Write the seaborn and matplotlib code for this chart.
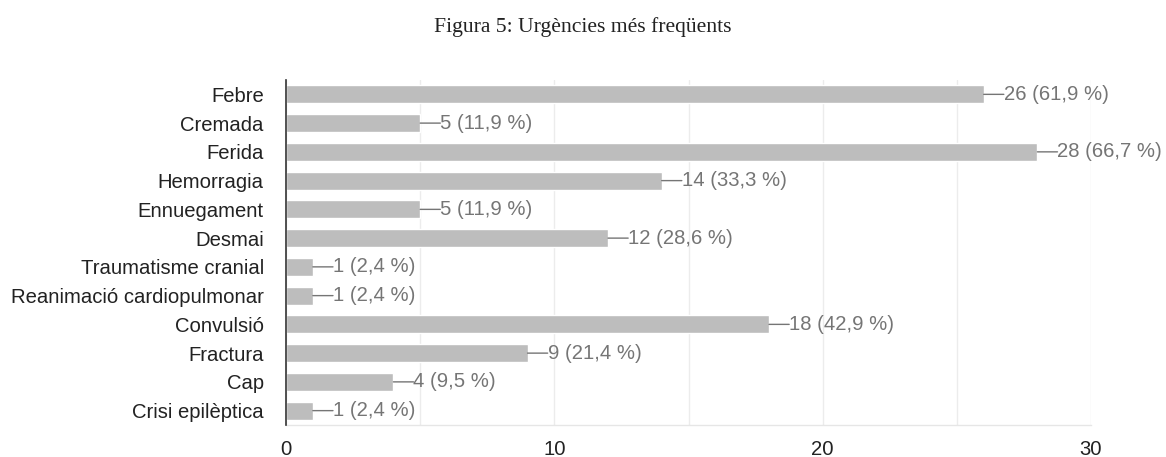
import matplotlib
matplotlib.use("Agg")
import matplotlib.pyplot as plt
import seaborn as sns
import pandas as pd

categories = ["Febre", "Cremada", "Ferida", "Hemorragia", "Ennuegament", "Desmai",
              "Traumatisme cranial", "Reanimació cardiopulmonar", "Convulsió",
              "Fractura", "Cap", "Crisi epilèptica"]
counts = [26, 5, 28, 14, 5, 12, 1, 1, 18, 9, 4, 1]
percents = ["61,9", "11,9", "66,7", "33,3", "11,9", "28,6", "2,4", "2,4", "42,9", "21,4", "9,5", "2,4"]
xticks = [0, 10, 20, 30]
title = "Figura 5: Urgències més freqüents"

sns.set_theme(style="white")
plt.rcParams['font.family'] = ['Liberation Sans', 'DejaVu Sans']

df = pd.DataFrame({"cat": categories, "n": counts})

fig = plt.figure(figsize=(11.66, 4.57), dpi=100)
ax = fig.add_axes([0.2453, 0.070, 0.6904, 0.755])

sns.barplot(data=df, x="n", y="cat", orient="h", color="#bdbdbd", saturation=1,
            width=0.63, ax=ax, zorder=3)

ax.set_xlim(0, 30)
ax.set_xticks(xticks)
ax.set_xticks([5, 15, 25], minor=True)
ax.grid(True, axis="x", which="both", color="#ececec", linewidth=1, zorder=0)
ax.set_axisbelow(True)
ax.set_xlabel("")
ax.set_ylabel("")
for s in ["top", "right"]:
    ax.spines[s].set_visible(False)
ax.spines["bottom"].set_color("#e6e6e6")
ax.spines["bottom"].set_linewidth(1)
ax.spines["left"].set_color("#333333")
ax.spines["left"].set_linewidth(1.2)
ax.spines["left"].set_zorder(5)
ax.tick_params(axis="both", which="both", length=0)
ax.tick_params(axis="y", labelsize=14.6, labelcolor="#222222", pad=16)
ax.tick_params(axis="x", labelsize=14.6, labelcolor="#222222", pad=11)

for i, (v, p) in enumerate(zip(counts, percents)):
    ax.annotate(f"{v} ({p} %)", xy=(v, i), xytext=(14.5, 0), textcoords="offset points",
                ha="left", va="center", fontsize=14.6, color="#757575",
                arrowprops=dict(arrowstyle="-", color="#757575", lw=1,
                                shrinkA=0, shrinkB=0, patchA=None, relpos=(0, 0.5)))

fig.text(0.5, 0.94, title, ha="center", va="center", fontsize=15.6,
         family=["Liberation Serif", "DejaVu Serif"], color="#222222")

fig.savefig("out.png", dpi=100, facecolor="white")
